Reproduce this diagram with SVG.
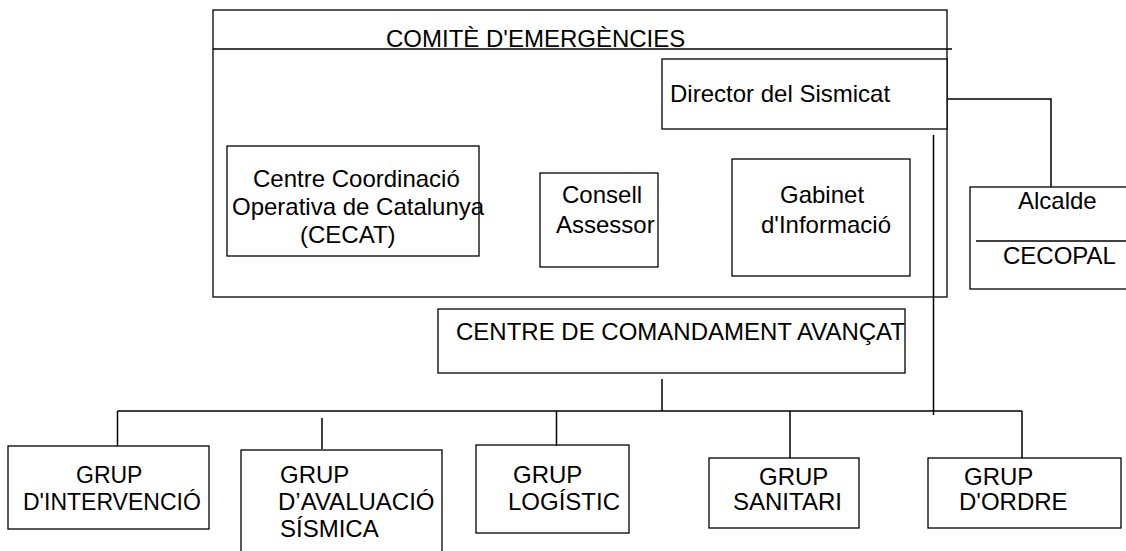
<svg xmlns="http://www.w3.org/2000/svg" width="1126" height="551" viewBox="0 0 1126 551">
<style>
rect{fill:#fff;stroke:#000;stroke-width:1.3}
line,polyline{fill:none;stroke:#000;stroke-width:1.5}
text{font-family:"Liberation Sans",Arial,sans-serif;font-size:24px;fill:#000}
</style>
<rect x="0" y="0" width="1126" height="551" style="stroke:none"/>
<g id="comite">
<rect x="213" y="10" width="734" height="287"/>
<line x1="213" y1="49" x2="952" y2="49"/>
<text x="386" y="46.5">COMITÈ D'EMERGÈNCIES</text>
</g>
<g id="director">
<rect x="662" y="59" width="285" height="70"/>
<text x="670" y="101.5">Director del Sismicat</text>
</g>
<g id="cecat">
<rect x="227" y="146" width="252" height="110"/>
<text x="253" y="187">Centre Coordinació</text>
<text x="232" y="215">Operativa de Catalunya</text>
<text x="300" y="243">(CECAT)</text>
</g>
<g id="consell">
<rect x="540" y="173" width="118" height="94"/>
<text x="562" y="203">Consell</text>
<text x="556" y="232.5">Assessor</text>
</g>
<g id="gabinet">
<rect x="732" y="159" width="178" height="117"/>
<text x="780" y="202.7">Gabinet</text>
<text x="761" y="232.7">d'Informació</text>
</g>
<g id="alcalde">
<rect x="970" y="187" width="170" height="102"/>
<line x1="976" y1="241" x2="1126" y2="241" style="stroke-width:1.3"/>
<text x="1018" y="209">Alcalde</text>
<text x="1003" y="264">CECOPAL</text>
</g>
<g id="cca">
<rect x="438" y="309" width="467" height="64"/>
<text x="456" y="340">CENTRE DE COMANDAMENT AVANÇAT</text>
</g>
<g id="intervencio">
<rect x="8" y="446" width="201" height="83"/>
<text x="76" y="483" style="font-size:23px">GRUP</text>
<text x="23" y="510" style="font-size:23px">D'INTERVENCIÓ</text>
</g>
<g id="avaluacio">
<rect x="241" y="450" width="201" height="110"/>
<text x="280" y="483">GRUP</text>
<text x="278" y="510">D’AVALUACIÓ</text>
<text x="280" y="537">SÍSMICA</text>
</g>
<g id="logistic">
<rect x="476" y="445" width="153" height="88"/>
<text x="513" y="483">GRUP</text>
<text x="508" y="510">LOGÍSTIC</text>
</g>
<g id="sanitari">
<rect x="709" y="458" width="150" height="70"/>
<text x="759" y="485">GRUP</text>
<text x="733" y="510">SANITARI</text>
</g>
<g id="ordre">
<rect x="928" y="458" width="193" height="70"/>
<text x="964" y="485">GRUP</text>
<text x="959" y="510">D'ORDRE</text>
</g>
<g id="connectors">
<polyline points="948,99 1051,99 1051,187"/>
<line x1="933.5" y1="135" x2="933.5" y2="415"/>
<line x1="662" y1="379" x2="662" y2="411"/>
<line x1="117.5" y1="411" x2="1022" y2="411"/>
<line x1="117.5" y1="411" x2="117.5" y2="446"/>
<line x1="322" y1="418" x2="322" y2="449"/>
<line x1="556.5" y1="411" x2="556.5" y2="446"/>
<line x1="790" y1="411" x2="790" y2="458"/>
<line x1="1022" y1="411" x2="1022" y2="458"/>
</g>
</svg>
